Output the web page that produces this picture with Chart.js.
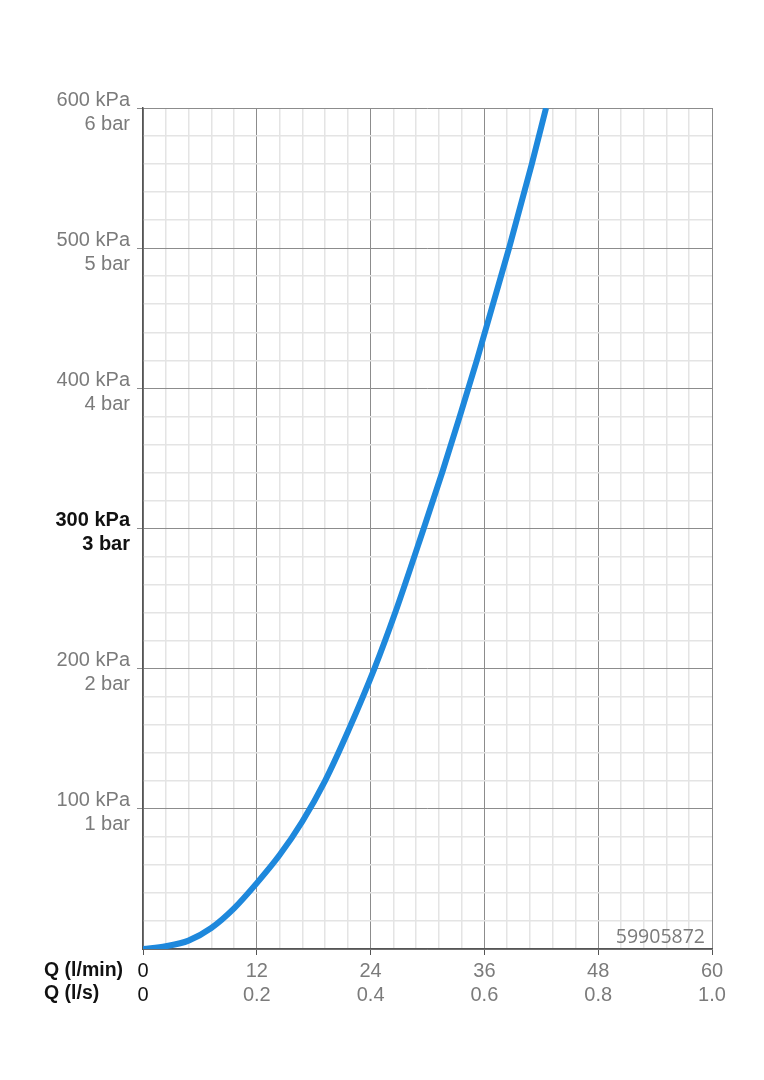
<!DOCTYPE html>
<html>
<head>
<meta charset="utf-8">
<script src="https://cdn.jsdelivr.net/npm/chart.js@4/dist/chart.umd.min.js"></script>
<style>
  html, body { margin: 0; padding: 0; background: #ffffff; }
  #wrap { position: relative; width: 764px; height: 1080px; }
</style>
</head>
<body>
<div id="wrap"><canvas id="flow-chart" width="764" height="1080"></canvas></div>
<script>
const flowLpm = [0, 2.4, 4.8, 7.2, 9.6, 12, 14.4, 16.8, 19.2, 21.6, 24.4, 26.6, 29.6, 31.6, 33.4, 35.2, 36.9, 38.6, 41.0, 42.5];
const pressureKpa = [0, 2, 6, 15, 29, 47, 67, 91, 120, 155, 200, 240, 300, 341, 380, 420, 460, 500, 560, 600];

// ---- Tick labels ----
const xTicksLpm = [0, 12, 24, 36, 48, 60];
const xLabelsLpm = ['0', '12', '24', '36', '48', '60'];
const xLabelsLs = ['0', '0.2', '0.4', '0.6', '0.8', '1.0'];
const yTicksKpa = [100, 200, 300, 400, 500, 600];
const yLabelsKpa = ['100 kPa', '200 kPa', '300 kPa', '400 kPa', '500 kPa', '600 kPa'];
const yLabelsBar = ['1 bar', '2 bar', '3 bar', '4 bar', '5 bar', '6 bar'];

const GRAY = '#7b7b7b';
const MAJOR = '#8c8c8c';
const MINOR = '#e4e4e4';
const FONT = '"Liberation Sans", Arial, sans-serif';

function near(v, list) {
    for (let i = 0; i < list.length; i++) {
        if (Math.abs(v - list[i]) < 1e-6) return i;
    }
    return -1;
}

// draws the "Q (l/min)" / "Q (l/s)" captions and the article number
const extraText = {
    id: 'extraText',
    afterDraw(chart) {
        const ctx = chart.ctx;
        const area = chart.chartArea;
        ctx.save();
        ctx.fillStyle = '#111111';
        ctx.font = 'bold 19.5px ' + FONT;
        ctx.textAlign = 'left';
        ctx.textBaseline = 'middle';
        ctx.fillText('Q (l/min)', 44, area.bottom + 22);
        ctx.fillText('Q (l/s)', 44, area.bottom + 45);
        ctx.fillStyle = GRAY;
        ctx.font = '19.5px "Open Sans", ' + FONT;
        ctx.textAlign = 'right';
        ctx.textBaseline = 'alphabetic';
        ctx.fillText('59905872', area.right - 7, area.bottom - 6);
        ctx.restore();
    }
};

const ctx = document.getElementById('flow-chart').getContext('2d');
new Chart(ctx, {
    type: 'line',
    data: {
        datasets: [{
            data: flowLpm.map(function (q, i) { return { x: q, y: pressureKpa[i] }; }),
            borderColor: '#1e88dc',
            borderWidth: 6,
            pointRadius: 0,
            cubicInterpolationMode: 'monotone',
            fill: false
        }]
    },
    options: {
        responsive: false,
        animation: false,
        layout: { padding: { left: 0, top: 108, right: 52, bottom: 0 } },
        plugins: {
            legend: { display: false },
            tooltip: { enabled: false }
        },
        scales: {
            x: {
                type: 'linear',
                min: 0,
                max: 60,
                afterFit: function (scale) { scale.height = 131; },
                afterBuildTicks: function (scale) {
                    const ticks = [];
                    for (let i = 0; i <= 25; i++) ticks.push({ value: i * 2.4 });
                    scale.ticks = ticks;
                },
                border: { color: '#555555', width: 1.5 },
                grid: {
                    color: function (c) { return near(c.tick.value, xTicksLpm) >= 0 ? MAJOR : MINOR; },
                    lineWidth: function (c) { return near(c.tick.value, xTicksLpm) >= 0 ? 1 : 1.5; },
                    tickColor: function (c) { return near(c.tick.value, xTicksLpm) >= 0 ? '#555555' : 'rgba(0,0,0,0)'; },
                    tickLength: 6
                },
                ticks: {
                    autoSkip: false,
                    maxRotation: 0,
                    padding: 4,
                    color: function (c) { return c.tick.value === 0 ? '#111111' : GRAY; },
                    font: { family: FONT, size: 20, lineHeight: 1.2 },
                    callback: function (v) {
                        const i = near(v, xTicksLpm);
                        return i >= 0 ? [xLabelsLpm[i], xLabelsLs[i]] : '';
                    }
                }
            },
            y: {
                type: 'linear',
                min: 0,
                max: 600,
                afterFit: function (scale) { scale.width = 143; },
                afterBuildTicks: function (scale) {
                    const ticks = [];
                    for (let i = 0; i <= 30; i++) ticks.push({ value: i * 20 });
                    scale.ticks = ticks;
                },
                border: { color: '#555555', width: 1.5 },
                grid: {
                    color: function (c) { return c.tick.value % 100 === 0 ? MAJOR : MINOR; },
                    lineWidth: function (c) { return c.tick.value % 100 === 0 ? 1 : 1.5; },
                    tickColor: function (c) { return c.tick.value % 100 === 0 && c.tick.value > 0 ? MAJOR : 'rgba(0,0,0,0)'; },
                    tickLength: 6
                },
                ticks: {
                    autoSkip: false,
                    padding: 7,
                    labelOffset: 4,
                    color: function (c) { return c.tick && c.tick.value === 300 ? '#111111' : GRAY; },
                    font: function (c) {
                        return { family: FONT, size: 20, lineHeight: 1.2, weight: c.tick && c.tick.value === 300 ? 'bold' : 'normal' };
                    },
                    callback: function (v) {
                        const i = near(v, yTicksKpa);
                        return i >= 0 ? [yLabelsKpa[i], yLabelsBar[i]] : '';
                    }
                }
            }
        }
    },
    plugins: [extraText]
});
</script>
</body>
</html>
